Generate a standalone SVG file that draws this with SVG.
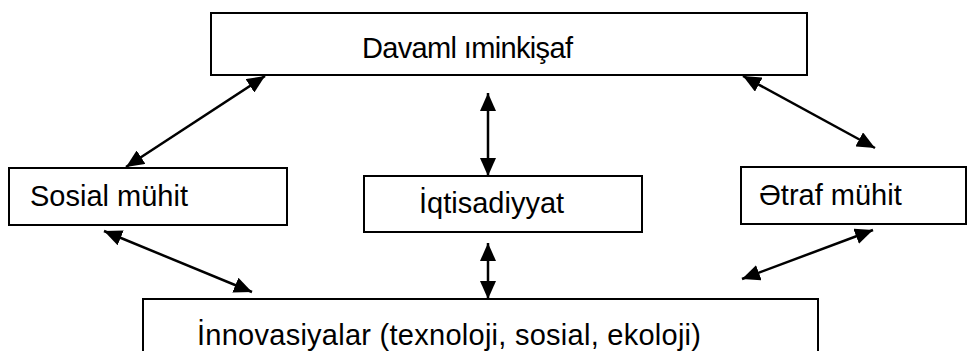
<svg xmlns="http://www.w3.org/2000/svg" width="968" height="351" viewBox="0 0 968 351">
<style>
.box{fill:#fff;stroke:#000;stroke-width:2}
.t{font-family:"Liberation Sans",Arial,sans-serif;font-size:29px;fill:#000}
.c{stroke:#000;stroke-width:2.5;fill:none;marker-start:url(#ah);marker-end:url(#ah)}
</style>
<defs>
<marker id="ah" markerUnits="userSpaceOnUse" markerWidth="18" markerHeight="16" refX="18" refY="8" orient="auto-start-reverse" viewBox="0 0 18 16">
<path d="M0,0 L18,8 L0,16 z" fill="#000"/>
</marker>
</defs>
<rect width="968" height="351" fill="#fff"/>
<g id="connectors">
<line class="c" x1="126" y1="167" x2="265" y2="76"/>
<line class="c" x1="488" y1="93" x2="488" y2="176"/>
<line class="c" x1="743" y1="76" x2="875" y2="148"/>
<line class="c" x1="104" y1="231" x2="252" y2="292"/>
<line class="c" x1="488" y1="243" x2="488" y2="299"/>
<line class="c" x1="742" y1="279" x2="873" y2="230"/>
</g>
<g id="davamli">
<rect class="box" x="211" y="13" width="596" height="62"/>
<text class="t" x="362" y="58" textLength="211">Davaml ıminkişaf</text>
</g>
<g id="sosial">
<rect class="box" x="9" y="168" width="278" height="57"/>
<text class="t" x="30" y="206">Sosial mühit</text>
</g>
<g id="iqtisadiyyat">
<rect class="box" x="364" y="176" width="278" height="56"/>
<text class="t" x="419" y="213">İqtisadiyyat</text>
</g>
<g id="etraf">
<rect class="box" x="741" y="167" width="225" height="57"/>
<text class="t" x="759" y="205">Ətraf mühit</text>
</g>
<g id="innovasiyalar">
<rect class="box" x="143" y="299" width="675" height="70"/>
<text class="t" x="197" y="345" textLength="504">İnnovasiyalar (texnoloji, sosial, ekoloji)</text>
</g>
</svg>
